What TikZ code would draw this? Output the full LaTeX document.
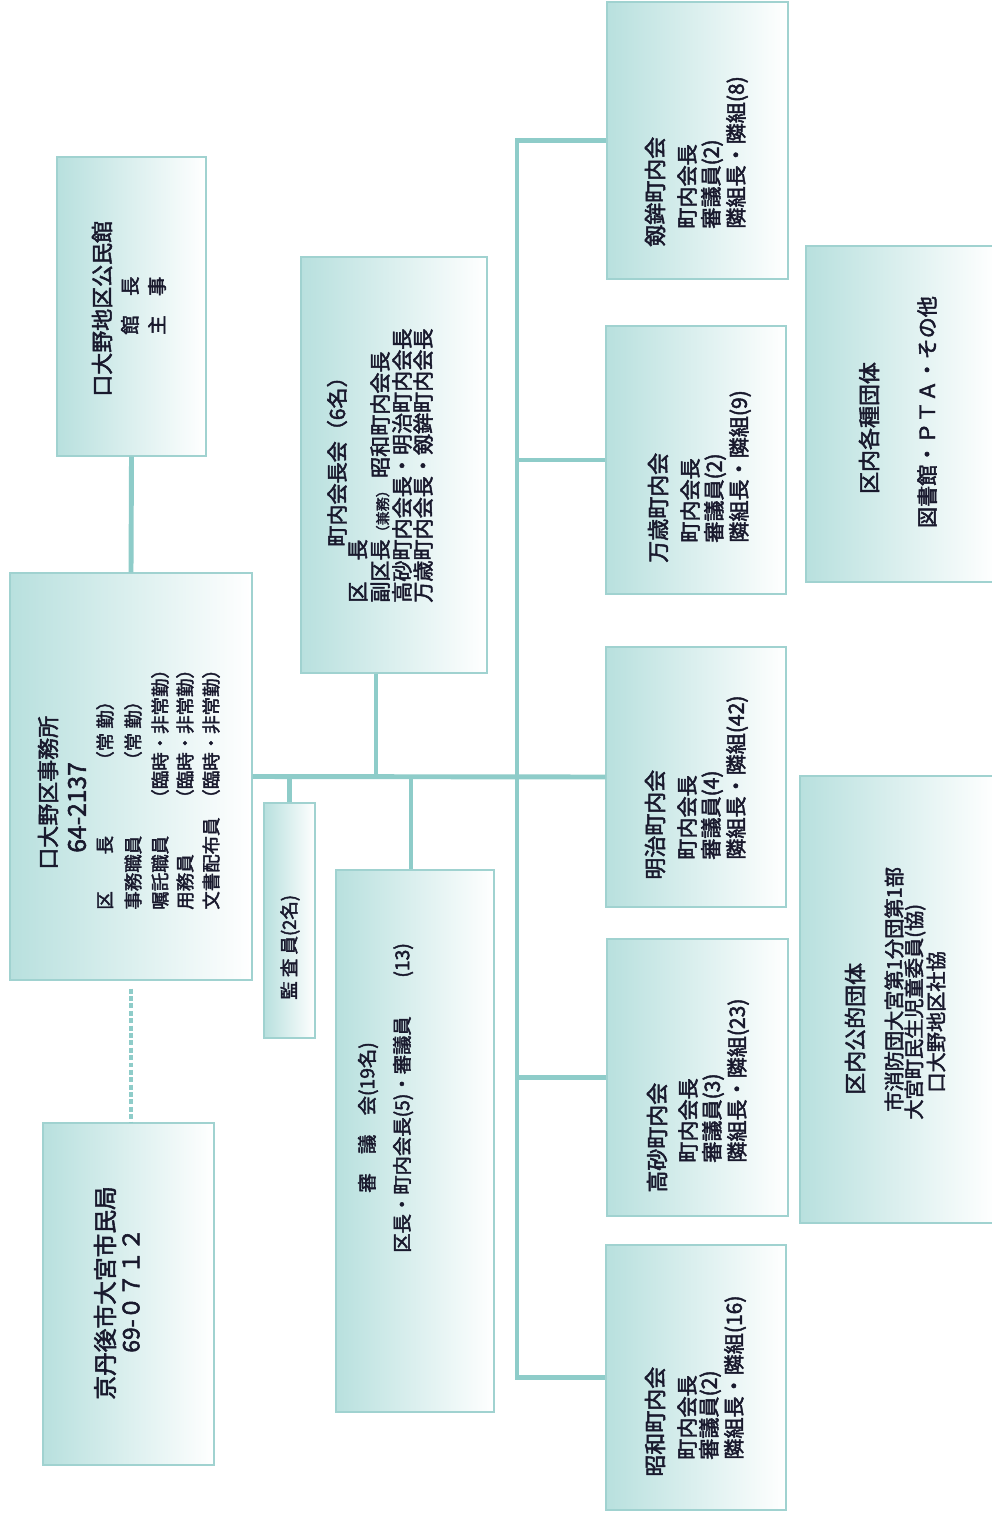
\documentclass[tikz,border=0pt]{standalone}
\usepackage{fontspec}
\setmainfont{Noto Sans CJK JP}[FakeBold=2.2]
\usetikzlibrary{fit,calc}
\definecolor{boxL}{RGB}{184,224,222}
\definecolor{boxborder}{RGB}{160,210,208}
\definecolor{conncol}{RGB}{142,204,201}
\definecolor{txt}{RGB}{25,25,45}
\begin{document}
\begin{tikzpicture}[x=0.02cm,y=-0.02cm,
 box/.style={draw=boxborder, line width=0.8pt, left color=boxL, right color=white, inner sep=0pt},
 conn/.style={draw=conncol, line width=2.8pt},
 dotconn/.style={conn, dash pattern=on 2.8pt off 1.4pt},
 vt/.style={rotate=90, anchor=west, inner sep=0pt, text=txt},
 vc/.style={rotate=90, anchor=center, inner sep=0pt, text=txt},
 fT/.style={font=\fontsize{12.5}{14}\selectfont},
 fS/.style={font=\fontsize{12}{14}\selectfont},
 fP/.style={font=\fontsize{11.5}{13}\selectfont},
 fM/.style={font=\fontsize{11}{13}\selectfont},
 fR/.style={font=\fontsize{10.5}{12}\selectfont},
]
\fill[white] (0,0) rectangle (991,1514);
\useasboundingbox (0,0) rectangle (991,1514);

% boxes
\node[box, fit={(43,1123) (214,1465)}] (shimin) {};
\node[box, fit={(10,573) (252,980)}] (jimu) {};
\node[box, fit={(57,157) (206,456)}] (komin) {};
\node[box, fit={(301,257) (487,673)}] (kaichokai) {};
\node[box, fit={(264,803) (315,1038)}] (kansa) {};
\node[box, fit={(336,870) (494,1412)}] (shingi) {};
\node[box, fit={(607,2) (788,279)}] (kenboko) {};
\node[box, fit={(606,326) (786,594)}] (banzai) {};
\node[box, fit={(606,647) (786,907)}] (meiji) {};
\node[box, fit={(607,939) (788,1216)}] (takasago) {};
\node[box, fit={(606,1245) (786,1510)}] (showa) {};
\node[box, fit={(806,246) (996,582)}] (kakushu) {};
\node[box, fit={(800,776) (996,1223)}] (koteki) {};

% connectors
\coordinate (trunk) at (517,0);
\coordinate (kcs) at ([xshift=-0.36cm]kaichokai.south);
\coordinate (sgn) at ([xshift=-0.08cm]shingi.north);
\draw[conn] (komin.south) -- (jimu.north);
\draw[dotconn] ([yshift=-0.16cm]jimu.south) -- (jimu.south |- shimin.north);
\draw[conn] (jimu.east) -- (meiji.west);
\draw[conn] (kansa.north |- jimu.east) -- (kansa.north);
\draw[conn] (kcs) -- (kcs |- jimu.east);
\draw[conn] (sgn |- jimu.east) -- (sgn);
\draw[conn] (kenboko.west) -- (kenboko.west -| trunk) -- (showa.west -| trunk) -- (showa.west);
\draw[conn] (banzai.west) -- (banzai.west -| trunk);
\draw[conn] (takasago.west) -- (takasago.west -| trunk);

% 公民館
\node[vt,fT] (k1) at (102,397) {口大野地区公民館};
\node[vt,fM] (k2) at (130,335) {館　長};
\node[vt,fM] (k3) at (157,335) {主　事};

% 事務所
\node[vt,fT] (j1) at (48,870) {口大野区事務所};
\node[vt,font=\fontsize{14}{16}\selectfont] (j2) at (77,853) {64-2137};
\node[vt,fR] (j3) at (105,910) {区　　長};
\node[vt,fR] (j3b) at (105,770) {（常 勤）};
\node[vt,fR] (j4) at (133,910) {事務職員};
\node[vt,fR] (j4b) at (133,770) {（常 勤）};
\node[vt,fR] (j5) at (160,910) {嘱託職員};
\node[vt,fR] (j5b) at (160,808) {（臨時・非常勤）};
\node[vt,fR] (j6) at (185,910) {用務員};
\node[vt,fR] (j6b) at (185,808) {（臨時・非常勤）};
\node[vt,fR] (j7) at (211,910) {文書配布員};
\node[vt,fR] (j7b) at (211,808) {（臨時・非常勤）};

% 市民局
\node[vt,font=\fontsize{13.5}{15}\selectfont] (s1) at (105,1400) {京丹後市大宮市民局};
\node[vt,font=\fontsize{13}{15}\selectfont] (s2) at (131,1353) {69-０７１２};

% 町内会長会
\node[vt,fS] (c1) at (337,547) {町内会長会（6名）};
\node[vt,fS] (c2) at (358,603) {区　長};
\node[vt,fS] (c3) at (380,603) {副区長{\fontsize{8}{9}\selectfont（兼務）}\hspace{3pt}昭和町内会長};
\node[vt,fS] (c4) at (402,603) {高砂町内会長・明治町内会長};
\node[vt,fS] (c5) at (423,603) {万歳町内会長・剱鉾町内会長};

% 監査員
\node[vt,fR] (ka1) at (290,1000) {監 査 員(2名)};

% 審議会
\node[vt,fM] (sg1) at (368,1193) {審　議　会(19名)};
\node[vt,fM] (sg2) at (403,1253) {区長・町内会長(5)・審議員　　(13)};

% 剱鉾
\node[vt,fT] (a1) at (655,247) {剱鉾町内会};
\node[vt,fS] (a2) at (687,229) {町内会長};
\node[vt,fS] (a3) at (712,229) {審議員(2)};
\node[vt,fS] (a4) at (737,229) {隣組長・隣組(8)};
% 万歳
\node[vt,fT] (b1) at (658,563) {万歳町内会};
\node[vt,fS] (b2) at (690,543) {町内会長};
\node[vt,fS] (b3) at (715,543) {審議員(2)};
\node[vt,fS] (b4) at (740,543) {隣組長・隣組(9)};
% 明治
\node[vt,fT] (m1) at (655,880) {明治町内会};
\node[vt,fS] (m2) at (687,860) {町内会長};
\node[vt,fS] (m3) at (712,860) {審議員(4)};
\node[vt,fS] (m4) at (737,860) {隣組長・隣組(42)};
% 高砂
\node[vt,fT] (t1) at (657,1193) {高砂町内会};
\node[vt,fS] (t2) at (688,1163) {町内会長};
\node[vt,fS] (t3) at (713,1163) {審議員(3)};
\node[vt,fS] (t4) at (738,1163) {隣組長・隣組(23)};
% 昭和
\node[vt,fT] (w1) at (655,1477) {昭和町内会};
\node[vt,fS] (w2) at (687,1460) {町内会長};
\node[vt,fS] (w3) at (710,1460) {審議員(2)};
\node[vt,fS] (w4) at (735,1460) {隣組長・隣組(16)};

% 区内各種団体
\node[vc,fT] (g1) at (869,428) {区内各種団体};
\node[vc,fS] (g2) at (927,412) {図書館・ＰＴＡ・その他};

% 区内公的団体
\node[vt,fT] (p1) at (855,1095) {区内公的団体};
\node[vt,fP] (p2) at (894,1112) {市消防団大宮第1分団第1部};
\node[vt,fP] (p3) at (915,1120) {大宮町民生児童委員(協)};
\node[vt,fP] (p4) at (936,1093) {口大野地区社協};
\end{tikzpicture}
\end{document}
